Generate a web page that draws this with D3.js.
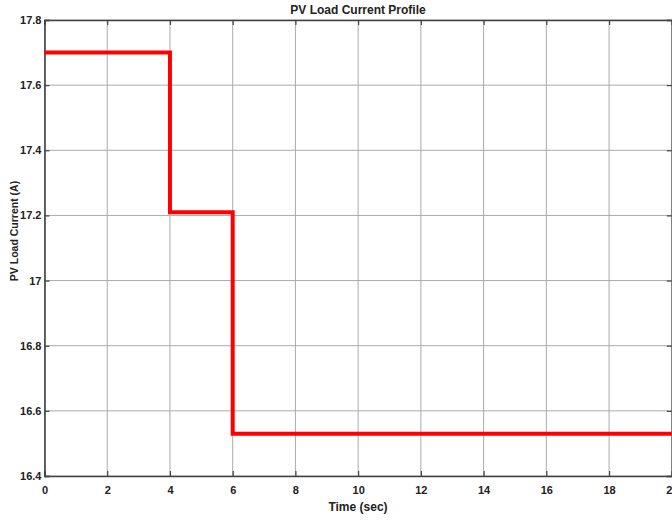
<!DOCTYPE html>
<html>
<head>
<meta charset="utf-8">
<script src="https://cdn.jsdelivr.net/npm/d3@7"></script>
<style>
  body { margin: 0; background: #fff; }
  svg text { font-family: "Liberation Sans Narrow", "Arial Narrow", "Liberation Sans", Arial, sans-serif; font-weight: bold; fill: #222; }
  .grid line { stroke: #aaa; stroke-width: 1; }
  .axis path, .axis line { stroke: #444; }
</style>
</head>
<body>
<svg width="672" height="521"></svg>
<script>
// step profile of the load current
var timeSec = [0, 4, 4, 6, 6, 20];
var currentA = [17.7, 17.7, 17.21, 17.21, 16.53, 16.53];
var xTicks = [0, 2, 4, 6, 8, 10, 12, 14, 16, 18, 20];
var yTicks = [16.4, 16.6, 16.8, 17, 17.2, 17.4, 17.6, 17.8];

var svg = d3.select("svg"),
    margin = {top: 20, right: 0.5, bottom: 45, left: 44.5},
    width = +svg.attr("width") - margin.left - margin.right,
    height = +svg.attr("height") - margin.top - margin.bottom;

var x = d3.scaleLinear().domain([0, 20]).range([0, 627.3]);
var y = d3.scaleLinear().domain([16.4, 17.8]).range([456, 0]);

var g = svg.append("g").attr("transform", "translate(" + margin.left + "," + margin.top + ")");

// grid
g.append("g").attr("class", "grid")
  .selectAll("line").data(xTicks).enter().append("line")
  .attr("x1", d => x(d)).attr("x2", d => x(d))
  .attr("y1", 0).attr("y2", y(16.4));
g.append("g").attr("class", "grid")
  .selectAll("line").data(yTicks).enter().append("line")
  .attr("x1", 0).attr("x2", x(20))
  .attr("y1", d => y(d)).attr("y2", d => y(d));

// box + ticks
var fmtX = d3.format("d");
g.append("g").attr("class", "axis").attr("transform", "translate(0," + y(16.4) + ")")
  .call(d3.axisBottom(x).tickValues(xTicks).tickSize(-5).tickPadding(10).tickFormat(fmtX))
  .call(a => a.select(".domain").attr("stroke-width", 1.6))
  .selectAll("text").attr("font-size", 11);
g.append("g").attr("class", "axis")
  .call(d3.axisTop(x).tickValues(xTicks).tickSize(-5).tickFormat(""))
  .call(a => a.select(".domain").attr("stroke-width", 1.6));
g.append("g").attr("class", "axis")
  .call(d3.axisLeft(y).tickValues(yTicks).tickSize(-5).tickPadding(3).tickFormat(d => d3.format("")(+d.toFixed(1))))
  .call(a => a.select(".domain").attr("stroke-width", 1.6))
  .selectAll("text").attr("font-size", 11);
g.append("g").attr("class", "axis").attr("transform", "translate(" + x(20) + ",0)")
  .call(d3.axisRight(y).tickValues(yTicks).tickSize(-5).tickFormat(""))
  .call(a => a.select(".domain").attr("stroke-width", 1.6));
g.selectAll(".axis .domain").attr("stroke", "#444");
g.selectAll(".axis .tick line").attr("stroke", "#222").attr("stroke-width", 1.2);

// the profile line
var line = d3.line().x((d, i) => x(timeSec[i])).y(d => y(d));
g.append("path").datum(currentA)
  .attr("fill", "none").attr("stroke", "#ff0000").attr("stroke-width", 4)
  .attr("stroke-linejoin", "miter")
  .attr("d", line);

// labels
svg.append("text").attr("x", 358).attr("y", 14).attr("text-anchor", "middle")
  .attr("font-size", 12).text("PV Load Current Profile");
svg.append("text").attr("x", 358).attr("y", 511).attr("text-anchor", "middle")
  .attr("font-size", 12).text("Time (sec)");
svg.append("text").attr("transform", "translate(18,231) rotate(-90)").attr("text-anchor", "middle")
  .style("font-family", "'Liberation Sans', Arial, sans-serif")
  .attr("font-size", 10.5).text("PV Load Current (A)");
</script>
</body>
</html>
